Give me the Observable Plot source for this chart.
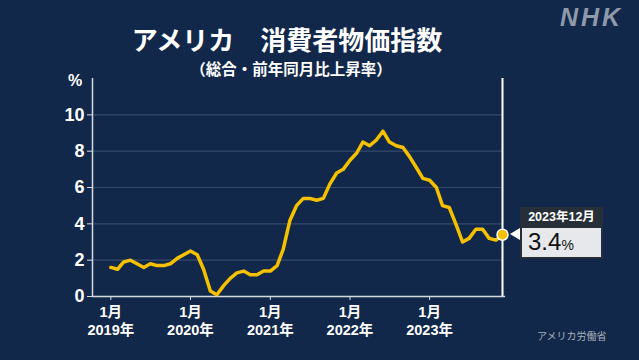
<!DOCTYPE html>
<html><head><meta charset="utf-8">
<script src="https://cdn.jsdelivr.net/npm/d3@7"></script>
<script src="https://cdn.jsdelivr.net/npm/@observablehq/plot@0.6"></script>
<style>
html,body{margin:0;padding:0;background:#12284a;}
#wrap{position:relative;width:639px;height:360px;overflow:hidden;background:#12284a;font-family:"Noto Sans CJK JP","Noto Sans",sans-serif;color:#fff;}
#wrap svg{position:absolute;left:0;top:0;}
.abs{position:absolute;white-space:nowrap;line-height:1;}
#callout{position:absolute;width:83px;}
#callout .hd{height:21px;background:#262f37;color:#fff;font-size:12.5px;font-weight:bold;text-align:center;line-height:21px;font-family:"Liberation Sans","Noto Sans CJK JP",sans-serif;}
#callout .bd{height:29px;background:#e6e8eb;border:2px solid #262f37;border-top:none;color:#111;box-sizing:content-box;}
#callout .bd span.v{font-size:24px;position:absolute;left:6px;bottom:3px;line-height:1;font-family:"Liberation Sans",sans-serif;}
#tri{position:absolute;width:0;height:0;border-top:6px solid transparent;border-bottom:6px solid transparent;border-right:10px solid #fff;}
</style></head><body>
<div id="wrap">
<div class="abs" style="left:0;width:574px;text-align:center;top:26px;font-size:26px;font-weight:bold;">アメリカ　消費者物価指数</div>
<div class="abs" style="left:0;width:582px;text-align:center;top:61px;font-size:15.5px;font-weight:bold;">（総合・前年同月比上昇率）</div>
<div class="abs" style="left:68px;top:73px;font-size:16px;font-weight:bold;font-family:'Liberation Sans',sans-serif;">%</div>
<div class="abs" style="left:560px;top:5px;font-size:25px;font-weight:bold;font-style:italic;letter-spacing:3px;color:#8f99aa;font-family:'Liberation Sans',sans-serif;">NHK</div>
<div class="abs" style="left:537px;top:331px;font-size:10px;color:#aab0b8;">アメリカ労働省</div>
</div>
<script>
const years = [2019, 2020, 2021, 2022, 2023];
const cpi2019 = [1.6, 1.5, 1.9, 2.0, 1.8, 1.6, 1.8, 1.7, 1.7, 1.8, 2.1, 2.3];
const cpi2020 = [2.5, 2.3, 1.5, 0.3, 0.1, 0.6, 1.0, 1.3, 1.4, 1.2, 1.2, 1.4];
const cpi2021 = [1.4, 1.7, 2.6, 4.2, 5.0, 5.4, 5.4, 5.3, 5.4, 6.2, 6.8, 7.0];
const cpi2022 = [7.5, 7.9, 8.5, 8.3, 8.6, 9.1, 8.5, 8.3, 8.2, 7.7, 7.1, 6.5];
const cpi2023 = [6.4, 6.0, 5.0, 4.9, 4.0, 3.0, 3.2, 3.7, 3.7, 3.2, 3.1, 3.4];
const yTicks = [0, 2, 4, 6, 8, 10];
const gridTicks = [2, 4, 6, 8, 10];
const monthLabel = "1月";

const seriesByYear = [cpi2019, cpi2020, cpi2021, cpi2022, cpi2023];
const data = years.flatMap((yr, i) => seriesByYear[i].map((v, m) => ({date: new Date(Date.UTC(yr, m, 1)), value: v})));
const janDates = years.map(yr => new Date(Date.UTC(yr, 0, 1)));
const last = data[data.length - 1];
const x0 = new Date(Date.UTC(2018, 9, 9));
const xEnd = new Date(Date.UTC(2023, 11, 15));
const axisCol = "#d6dae0";
const labelFont = "'Liberation Sans', 'Noto Sans CJK JP', sans-serif";

const chart = Plot.plot({
  width: 639, height: 360,
  marginLeft: 92, marginRight: 137, marginTop: 78, marginBottom: 64,
  style: {background: "transparent", color: "#fff", fontFamily: "'Noto Sans CJK JP', 'Noto Sans', sans-serif", overflow: "visible"},
  x: {type: "utc", domain: [x0, last.date]},
  y: {domain: [0, 12]},
  marks: [
    Plot.gridY(gridTicks, {stroke: "#34496b", strokeOpacity: 1, strokeWidth: 1.2}),
    Plot.ruleX([x0], {y1: 0, y2: 12, stroke: axisCol, strokeWidth: 1.5}),
    Plot.ruleY([0], {x1: x0, x2: xEnd, stroke: axisCol, strokeWidth: 1.5}),
    Plot.ruleX([last.date], {y1: 0, y2: 12, stroke: "#fff", strokeWidth: 2}),
    Plot.axisY(yTicks, {tickSize: 5, tickPadding: 3, fontSize: 18, fontWeight: "bold", label: null, stroke: axisCol, fill: "#fff", fontFamily: "'Liberation Sans', sans-serif"}),
    Plot.axisX(janDates, {tickSize: 4, fill: "none", label: null, stroke: axisCol}),
    Plot.text(janDates, {x: d => d, frameAnchor: "bottom", dy: 20, text: () => monthLabel, fill: "#fff", fontSize: 14.5, fontWeight: "bold", fontFamily: labelFont}),
    Plot.text(janDates, {x: d => d, frameAnchor: "bottom", dy: 38, text: d => `${d.getUTCFullYear()}年`, fill: "#fff", fontSize: 14.5, fontWeight: "bold", fontFamily: labelFont}),
    Plot.line(data, {x: "date", y: "value", stroke: "#f5c000", strokeWidth: 3.5, strokeLinejoin: "round"}),
    Plot.dot([last], {x: "date", y: "value", r: 5.5, fill: "#f5c000", stroke: "#fff", strokeWidth: 1.5})
  ]
});
const wrap = document.getElementById("wrap");
wrap.insertBefore(chart, wrap.firstChild);

const px = chart.scale("x").apply(last.date);
const py = chart.scale("y").apply(last.value);
const tri = document.createElement("div");
tri.id = "tri";
tri.style.left = (px + 8) + "px";
tri.style.top = (py - 6) + "px";
wrap.appendChild(tri);
const co = document.createElement("div");
co.id = "callout";
co.style.left = (px + 18) + "px";
co.style.top = (py - 27) + "px";
const ld = last.date;
co.innerHTML = `<div class="hd">${ld.getUTCFullYear()}年${ld.getUTCMonth() + 1}月</div><div class="bd" style="position:relative"><span class="v">${last.value.toFixed(1)}<span style="font-size:14px">%</span></span></div>`;
wrap.appendChild(co);
</script>
</body></html>
